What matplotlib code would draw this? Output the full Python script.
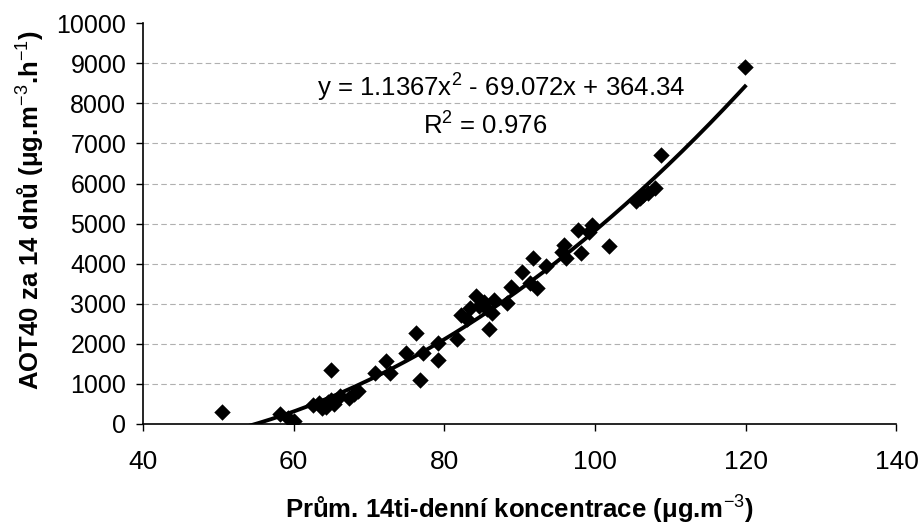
import matplotlib
matplotlib.use("Agg")
import matplotlib.pyplot as plt
import numpy as np

plt.rcParams['font.family'] = ['Liberation Sans', 'DejaVu Sans']
plt.rcParams['mathtext.fontset'] = 'custom'
plt.rcParams['mathtext.rm'] = 'Liberation Sans'
plt.rcParams['mathtext.it'] = 'Liberation Sans:italic'
plt.rcParams['mathtext.bf'] = 'Liberation Sans:bold'

conc = [50.5, 58.2, 59.2, 60.0, 62.5, 63.3, 63.8, 64.3, 64.6, 65.0, 65.4, 64.9,
        66.2, 67.3, 68.0, 68.6, 70.8, 72.3, 72.8, 74.9, 76.2, 77.1, 76.8, 79.1,
        79.1, 81.7, 82.2, 83.0, 83.4, 84.2, 84.6, 85.3, 85.6, 85.9, 86.3, 86.6,
        88.3, 88.9, 90.3, 91.3, 91.8, 92.3, 93.5, 95.6, 95.9, 96.2, 97.8, 98.2,
        99.2, 99.6, 101.9, 105.4, 106.0, 106.4, 107.0, 107.9, 108.8, 119.9]
aot40 = [300, 260, 150, 80, 470, 520, 400, 430, 550, 600, 500, 1350,
         700, 660, 760, 820, 1270, 1560, 1280, 1770, 2270, 1770, 1100, 2020,
         1600, 2120, 2720, 2620, 2900, 3200, 2950, 3050, 2880, 2370, 2770, 3090,
         3020, 3420, 3800, 3520, 4140, 3390, 3930, 4300, 4460, 4150, 4840, 4260,
         4800, 4960, 4440, 5560, 5650, 5720, 5760, 5900, 6700, 8900]
coef = [1.1367, -69.072, 364.34]
eq_text = "y = 1.1367x$^2$ - 69.072x + 364.34"
r2_text = "R$^2$ = 0.976"
x_ticks = [40, 60, 80, 100, 120, 140]

fig = plt.figure(figsize=(9.2, 5.28), dpi=100)
ax = fig.add_axes([0.1554, 0.197, 0.819, 0.759])

ax.scatter(conc, aot40, marker='D', s=70, color='black', zorder=3, linewidths=0)
xs = np.linspace(min(conc), max(conc), 300)
ys = np.polyval(coef, xs)
ax.plot(xs, ys, color='black', lw=2.8, zorder=4, clip_on=True)

ax.set_xlim(40, 140)
ax.set_ylim(0, 10000)
ax.set_xticks(x_ticks)
ax.set_yticks(np.arange(0, 10001, 1000))
for yv in range(1000, 10000, 1000):
    ax.axhline(yv, color='#b0b0b0', lw=0.8, ls=(0, (5, 3)), zorder=1)

for s in ['top', 'right']:
    ax.spines[s].set_visible(False)
for s in ['left', 'bottom']:
    ax.spines[s].set_linewidth(1.2)
ax.tick_params(axis='both', direction='out', length=5, width=1, labelsize=18)
ax.tick_params(axis='x', pad=14, labelsize=19)
ax.tick_params(axis='y', pad=7)

ax.set_xlabel("Prům. 14ti-denní koncentrace (μg.m$^{-3}$)", fontsize=18.5,
              fontweight='bold', labelpad=14)
ax.set_ylabel("AOT40 za 14 dnů (μg.m$^{-3}$.h$^{-1}$)", fontsize=18.5,
              fontweight='bold')
ax.yaxis.set_label_coords(-0.128, 0.535)

fig.text(0.345, 0.833, eq_text, fontsize=18.5, ha='left', va='center')
fig.text(0.527, 0.762, r2_text, fontsize=18.5, ha='center', va='center')

fig.savefig("out.png", dpi=100)
